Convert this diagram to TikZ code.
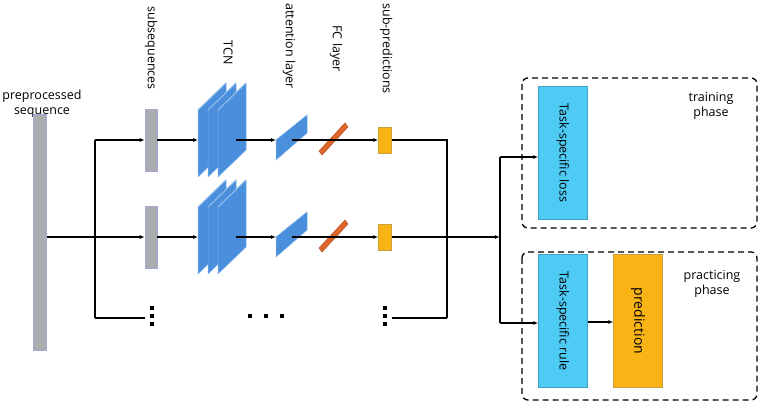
\documentclass[tikz,border=0pt]{standalone}
\usepackage{fontspec}
\setmainfont{Open Sans}
\usetikzlibrary{arrows.meta}
\definecolor{gbar}{HTML}{A9ADAD}
\definecolor{pl}{HTML}{4A8FDC}
\definecolor{fc}{HTML}{E0652A}
\definecolor{yel}{HTML}{F9B314}
\definecolor{cy}{HTML}{4ECBF5}
\begin{document}
\begin{tikzpicture}[x=1pt,y=-1pt,font=\fontsize{12.5}{15}\selectfont,
  ln/.style={black,line width=1.1pt},
  ar/.style={ln,-{Latex[length=5pt,width=4pt]}},
  bar/.style={draw=gray!60!blue!50,fill=gbar,line width=0.6pt},
  plate/.style={fill=pl,draw=pl!70!white,line width=0.5pt},
  lab/.style={rotate=-90,anchor=west},
  phase/.style={draw,dashed,line width=1.3pt,dash pattern=on 6pt off 4pt,rounded corners=6pt},
  tb/.style={draw=cy!80!black,fill=cy,minimum width=49pt,minimum height=133pt,inner sep=0pt},
  dot/.style={fill=black,minimum size=3.2pt,inner sep=0pt}]
\useasboundingbox (0,0) rectangle (758,402);
% labels
\node[align=center] (lpre) at (42,104) {preprocessed\\sequence};
\node[lab] (lsub) at (151,3) {subsequences};
\node[lab] (ltcn) at (228,37) {TCN};
\node[lab] (latt) at (289,0) {attention layer};
\node[lab] (lfc) at (336,22) {FC layer};
\node[lab] (lsp) at (386,0) {sub-predictions};
% main sequence
\node[bar,minimum width=13pt,minimum height=236pt,inner sep=0] (pre) at (40,232) {};
\coordinate (br) at (95,237);
\draw[ln] (pre.east|-br) -- (br);
\draw[ln] (95,140) -- (95,318);
\foreach \r/\y in {1/140,2/237}{
  \node[bar,minimum width=12pt,minimum height=62pt,inner sep=0] (s\r) at (151,\y) {};
  \draw[ar] (95,\y) -- (s\r.west);
  \foreach \dx in {0,10,20}{
    \filldraw[plate] (198+\dx,\y-30) -- (226+\dx,\y-57) -- (226+\dx,\y+10) -- (198+\dx,\y+37) -- cycle;
    \draw[pl!60!white,line width=1pt] (198+\dx,\y-30) -- (226+\dx,\y-57);
  }
  \coordinate (t\r) at (198,\y);
  \draw[ar] (s\r.east) -- (t\r);
  \filldraw[plate] (276,\y) -- (307,\y-25) -- (307,\y-7) -- (276,\y+20) -- cycle;
  \coordinate (a\r) at (276,\y);
  \draw[ar] (236,\y) -- (a\r);
  \filldraw[fill=fc,draw=fc!80!black,line width=0.5pt] (319,\y+11) -- (345,\y-17) -- (348,\y-13) -- (322,\y+15) -- cycle;
  \node[draw=yel!60!gray,fill=yel,minimum width=13pt,minimum height=26pt,inner sep=0] (p\r) at (385,\y) {};
  \draw[ar] (292,\y) -- (p\r.west);
}
\draw[ln] (95,318) -- (145,318);
\foreach \i/\yy in {a/308,b/316,c/324}{
  \node[dot] (v1\i) at (152,\yy) {};
  \node[dot] (v3\i) at (385,\yy) {};
}
\foreach \i/\xx in {a/250,b/266,c/282}{
  \node[dot] (h\i) at (\xx,316) {};
}
\draw[ln] (392,318) -- (447,318);
\draw[ln] (p1.east) -- (447,140) -- (447,318);
% phases
\draw[phase] (522,78) rectangle (757,228);
\draw[phase] (522,252) rectangle (757,400);
\node[tb] (loss) at (563,153) {};
\node[rotate=-90] at (loss) {Task-specific loss};
\node[tb] (rule) at (563,321) {};
\node[rotate=-90] at (rule) {Task-specific rule};
\node[draw=yel!60!gray,fill=yel,minimum width=49pt,minimum height=133pt,inner sep=0] (pred) at (638,321) {};
\node[rotate=-90,font=\fontsize{14}{16}\selectfont] at (pred) {prediction};
\node[align=center] (ltr) at (711,106) {training\\phase};
\node[align=center] (lpr) at (712,284) {practicing\\phase};
\draw[ar,line width=1.6pt] (p2.east) -- (500,237);
\draw[ln] (500,157) -- (500,323);
\draw[ar] (500,157) -- (loss.west|-500,157);
\draw[ar] (500,323) -- (rule.west|-500,323);
\draw[ar] (rule.east|-0,322) -- (pred.west|-0,322);
\end{tikzpicture}
\end{document}
